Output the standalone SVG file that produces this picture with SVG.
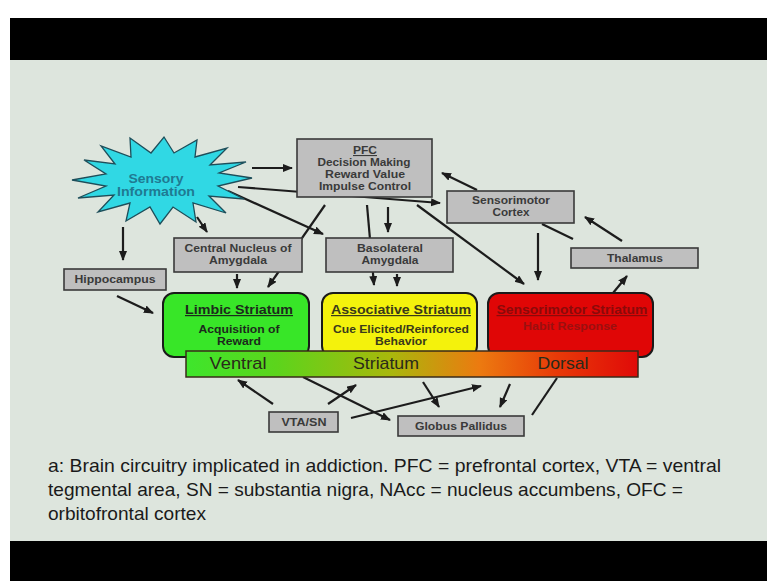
<svg xmlns="http://www.w3.org/2000/svg" width="767" height="581" viewBox="0 0 767 581">
<style>
.box{fill:#bfbfbf;stroke:#3a3a3a;stroke-width:1.6}
.bt{font-family:"Liberation Sans",Arial,sans-serif;font-weight:bold;font-size:11px;fill:#3a3a3a;text-anchor:middle}
.st{font-family:"Liberation Sans",Arial,sans-serif;font-weight:bold;text-anchor:middle}
.con{stroke:#1c1c1c;stroke-width:2.2;fill:none}
.arr{marker-end:url(#ah)}
.sb{stroke:#1a1a1a;stroke-width:2}
.cap{font-family:"Liberation Sans",Arial,sans-serif;font-size:18.5px;fill:#1a1a1a}
.bar{font-family:"Liberation Sans",Arial,sans-serif;font-size:17px;fill:#2a2a1a;text-anchor:middle}
</style>
<defs>
<marker id="ah" markerUnits="userSpaceOnUse" markerWidth="11" markerHeight="9" refX="9" refY="4" orient="auto">
<path d="M0,0 L10,4 L0,8 z" fill="#1c1c1c"/>
</marker>
<linearGradient id="grad" x1="0" y1="0" x2="1" y2="0">
<stop offset="0" stop-color="#3ee62c"/>
<stop offset="0.2" stop-color="#5cd41c"/>
<stop offset="0.45" stop-color="#a8b80c"/>
<stop offset="0.65" stop-color="#ec7a10"/>
<stop offset="0.82" stop-color="#e83a08"/>
<stop offset="1" stop-color="#e00a08"/>
</linearGradient>
</defs>
<rect x="0" y="0" width="767" height="581" fill="#ffffff"/>
<rect x="10" y="18" width="757" height="42" fill="#000"/>
<rect x="10" y="60" width="757" height="482" fill="#dde5dd"/>
<rect x="10" y="541" width="757" height="40" fill="#000"/>

<g id="connectors">
<line class="con arr" x1="252" y1="168" x2="292" y2="168"/>
<line class="con arr" x1="238" y1="187" x2="440" y2="203"/>
<line class="con arr" x1="228" y1="191" x2="323" y2="234"/>
<line class="con arr" x1="197" y1="217" x2="207" y2="232"/>
<line class="con arr" x1="123" y1="227" x2="123" y2="260"/>
<line class="con arr" x1="325" y1="205" x2="268" y2="287"/>
<line class="con arr" x1="367" y1="205" x2="374" y2="285"/>
<line class="con arr" x1="388" y1="207" x2="388" y2="232"/>
<line class="con arr" x1="417" y1="205" x2="524" y2="284"/>
<line class="con arr" x1="237" y1="274" x2="237" y2="288"/>
<line class="con arr" x1="397" y1="274" x2="397" y2="286"/>
<line class="con arr" x1="477" y1="190" x2="442" y2="173"/>
<line class="con arr" x1="538" y1="233" x2="538" y2="280"/>
<line class="con" x1="542" y1="224" x2="573" y2="239"/>
<line class="con arr" x1="622" y1="241" x2="585" y2="217"/>
<line class="con arr" x1="613" y1="293" x2="627" y2="276"/>
<line class="con arr" x1="117" y1="296" x2="153" y2="313"/>
<line class="con arr" x1="273" y1="404" x2="238" y2="380"/>
<line class="con arr" x1="328" y1="404" x2="356" y2="385"/>
<line class="con arr" x1="303" y1="377" x2="390" y2="420"/>
<line class="con arr" x1="351" y1="418" x2="481" y2="386"/>
<line class="con arr" x1="423" y1="382" x2="439" y2="407"/>
<line class="con arr" x1="510" y1="384" x2="500" y2="407"/>
<line class="con" x1="532" y1="415" x2="557" y2="378"/>
</g>

<g id="sensory">
<polygon points="252,178 218,186 244,199 209,196 226,213 193,203 196,222 173,207 160,224 150,207 126,221 130,203 98,212 114,195 78,198 106,186 72,180 106,174 84,160 115,164 101,146 131,157 130,138 151,153 164,137 174,153 197,140 195,157 227,148 210,165 246,162 219,173" fill="#30d8e4" stroke="#1e4e5a" stroke-width="1.3"/>
<text class="st" x="156" y="183" font-size="12.5" fill="#1f7a92" textLength="55" lengthAdjust="spacingAndGlyphs">Sensory</text>
<text class="st" x="156" y="196" font-size="12.5" fill="#1f7a92" textLength="78" lengthAdjust="spacingAndGlyphs">Information</text>
</g>

<g id="pfc">
<rect class="box" x="297" y="139" width="135" height="58"/>
<text class="bt" x="365" y="154" text-decoration="underline" textLength="24" lengthAdjust="spacingAndGlyphs">PFC</text>
<text class="bt" x="364" y="166" textLength="93" lengthAdjust="spacingAndGlyphs">Decision Making</text>
<text class="bt" x="365" y="178" textLength="80" lengthAdjust="spacingAndGlyphs">Reward Value</text>
<text class="bt" x="365" y="190" textLength="92" lengthAdjust="spacingAndGlyphs">Impulse Control</text>
</g>

<g id="sensorimotor-cortex">
<rect class="box" x="447" y="191" width="127" height="32"/>
<text class="bt" x="511" y="204" textLength="78" lengthAdjust="spacingAndGlyphs">Sensorimotor</text>
<text class="bt" x="511" y="216" textLength="37" lengthAdjust="spacingAndGlyphs">Cortex</text>
</g>

<g id="thalamus">
<rect class="box" x="571" y="248" width="127" height="20"/>
<text class="bt" x="635" y="262" textLength="56" lengthAdjust="spacingAndGlyphs">Thalamus</text>
</g>

<g id="central-nucleus">
<rect class="box" x="174" y="238" width="128" height="34"/>
<text class="bt" x="238" y="252" textLength="107" lengthAdjust="spacingAndGlyphs">Central Nucleus of</text>
<text class="bt" x="238" y="264" textLength="58" lengthAdjust="spacingAndGlyphs">Amygdala</text>
</g>

<g id="basolateral">
<rect class="box" x="326" y="238" width="127" height="34"/>
<text class="bt" x="390" y="252" textLength="66" lengthAdjust="spacingAndGlyphs">Basolateral</text>
<text class="bt" x="390" y="264" textLength="57" lengthAdjust="spacingAndGlyphs">Amygdala</text>
</g>

<g id="hippocampus">
<rect class="box" x="64" y="269" width="102" height="21"/>
<text class="bt" x="115" y="283" textLength="81" lengthAdjust="spacingAndGlyphs">Hippocampus</text>
</g>

<g id="limbic-striatum">
<rect class="sb" x="163" y="293" width="146" height="64" rx="11" fill="#38e628"/>
<text class="st" x="239" y="314" font-size="12" fill="#1c2a1c" text-decoration="underline" textLength="108" lengthAdjust="spacingAndGlyphs">Limbic Striatum</text>
<text class="st" x="239" y="333" font-size="10.5" fill="#1c2a1c" textLength="81" lengthAdjust="spacingAndGlyphs">Acquisition of</text>
<text class="st" x="239" y="345" font-size="10.5" fill="#1c2a1c" textLength="44" lengthAdjust="spacingAndGlyphs">Reward</text>
</g>

<g id="associative-striatum">
<rect class="sb" x="322" y="293" width="155" height="64" rx="11" fill="#f4f20c"/>
<text class="st" x="401" y="314" font-size="12" fill="#3a3a1a" text-decoration="underline" textLength="140" lengthAdjust="spacingAndGlyphs">Associative Striatum</text>
<text class="st" x="401" y="333" font-size="10.5" fill="#3a3a1a" textLength="136" lengthAdjust="spacingAndGlyphs">Cue Elicited/Reinforced</text>
<text class="st" x="401" y="345" font-size="10.5" fill="#3a3a1a" textLength="52" lengthAdjust="spacingAndGlyphs">Behavior</text>
</g>

<g id="sensorimotor-striatum">
<rect class="sb" x="488" y="293" width="165" height="64" rx="11" fill="#e00606"/>
<text class="st" x="572" y="314" font-size="12" fill="#8a0a0a" text-decoration="underline" textLength="151" lengthAdjust="spacingAndGlyphs">Sensorimotor Striatum</text>
<text class="st" x="570" y="330" font-size="10.5" fill="#9a1010" textLength="94" lengthAdjust="spacingAndGlyphs">Habit Response</text>
</g>

<g id="striatum-bar">
<rect x="186" y="351" width="452" height="26" fill="url(#grad)" stroke="#3a2a1a" stroke-width="1.5"/>
<text class="bar" x="238" y="369" textLength="57" lengthAdjust="spacingAndGlyphs">Ventral</text>
<text class="bar" x="386" y="369" textLength="66" lengthAdjust="spacingAndGlyphs">Striatum</text>
<text class="bar" x="563" y="369" textLength="51" lengthAdjust="spacingAndGlyphs">Dorsal</text>
</g>

<g id="vta-sn">
<rect class="box" x="269" y="412" width="69" height="20"/>
<text class="bt" x="304" y="426" textLength="45" lengthAdjust="spacingAndGlyphs">VTA/SN</text>
</g>

<g id="globus-pallidus">
<rect class="box" x="398" y="416" width="126" height="20"/>
<text class="bt" x="461" y="430" textLength="92" lengthAdjust="spacingAndGlyphs">Globus Pallidus</text>
</g>

<g id="caption">
<text class="cap" x="48" y="472" textLength="673" lengthAdjust="spacingAndGlyphs">a: Brain circuitry implicated in addiction. PFC = prefrontal cortex, VTA = ventral</text>
<text class="cap" x="48" y="496" textLength="635" lengthAdjust="spacingAndGlyphs">tegmental area, SN = substantia nigra, NAcc = nucleus accumbens, OFC =</text>
<text class="cap" x="48" y="520" textLength="158" lengthAdjust="spacingAndGlyphs">orbitofrontal cortex</text>
</g>
</svg>
